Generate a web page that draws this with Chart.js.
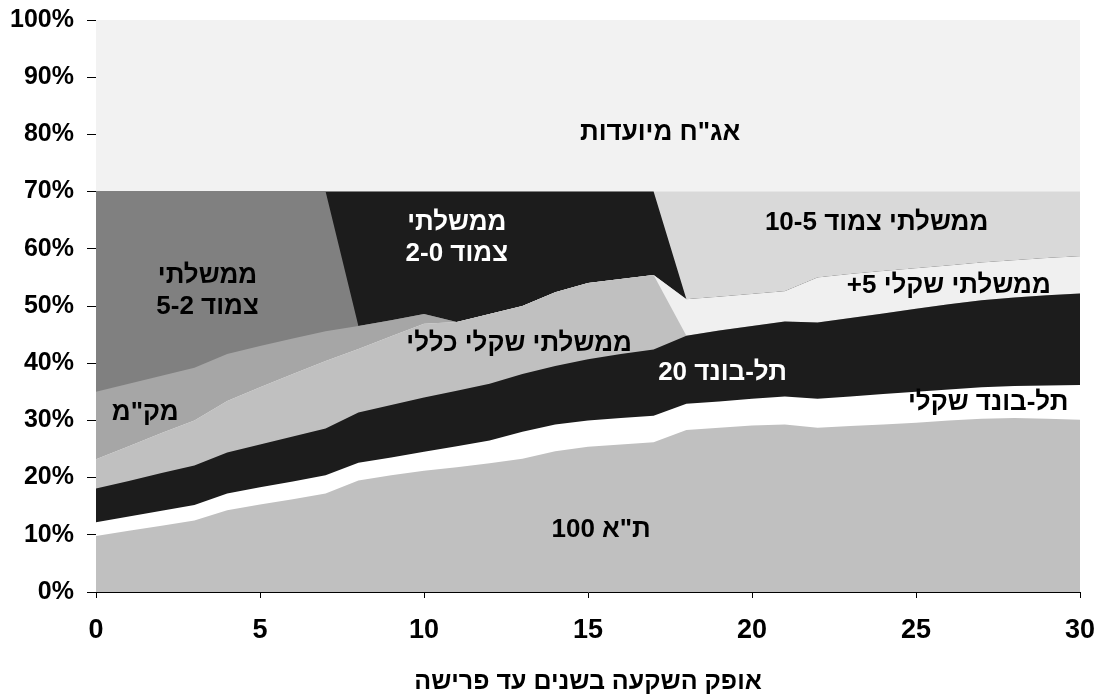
<!DOCTYPE html>
<html>
<head>
<meta charset="utf-8">
<script src="https://cdn.jsdelivr.net/npm/chart.js@4.4.1/dist/chart.umd.min.js"></script>
<style>
  html, body { margin: 0; padding: 0; background: #fff; }
  #wrap { width: 1102px; height: 700px; }
</style>
</head>
<body>
<div id="wrap"><canvas id="mixChart" width="1102" height="700"></canvas></div>
<script>
// investment horizon (years to retirement)
const years = [0, 1, 2, 3, 4, 5, 6, 7, 8, 9, 10, 11, 12, 13, 14, 15, 16, 17, 18, 19, 20, 21, 22, 23, 24, 25, 26, 27, 28, 29, 30];

// share of each asset (%), stacked from the bottom
const ta100 = [9.8, 10.7, 11.6, 12.5, 14.3, 15.3, 16.2, 17.2, 19.5, 20.4, 21.2, 21.8, 22.5, 23.3, 24.6, 25.4, 25.8, 26.2, 28.3, 28.7, 29.1, 29.3, 28.7, 29.0, 29.3, 29.6, 30.0, 30.3, 30.4, 30.3, 30.1];
const telBondShekli = [2.4, 2.5, 2.6, 2.7, 2.9, 3.0, 3.1, 3.2, 3.1, 3.1, 3.3, 3.7, 4.0, 4.7, 4.7, 4.6, 4.6, 4.6, 4.6, 4.6, 4.7, 4.9, 5.1, 5.2, 5.3, 5.4, 5.4, 5.5, 5.6, 5.8, 6.1];
const telBond20 = [5.9, 6.2, 6.6, 6.9, 7.2, 7.5, 7.9, 8.2, 8.8, 9.2, 9.5, 9.7, 9.9, 10.1, 10.2, 10.7, 11.2, 11.6, 11.9, 12.4, 12.7, 13.1, 13.3, 13.7, 14.1, 14.5, 14.9, 15.2, 15.5, 15.8, 16.0];
const shekliKlali = [5.1, 6.1, 7.0, 7.9, 9.0, 10.0, 10.9, 11.8, 11.1, 12.0, 12.9, 12.0, 12.2, 11.9, 12.9, 13.3, 13.1, 13.0, 0, 0, 0, 0, 0, 0, 0, 0, 0, 0, 0, 0, 0];
const shekli5plus = [0, 0, 0, 0, 0, 0, 0, 0, 0, 0, 0, 0, 0, 0, 0, 0, 0, 0, 6.4, 5.9, 5.6, 5.3, 7.9, 7.7, 7.4, 7.1, 6.8, 6.6, 6.5, 6.5, 6.5];
const makam = [11.8, 10.9, 10.0, 9.2, 8.2, 7.2, 6.2, 5.2, 4.0, 2.8, 1.7, 0, 0, 0, 0, 0, 0, 0, 0, 0, 0, 0, 0, 0, 0, 0, 0, 0, 0, 0, 0];
const tzamud52 = [35.0, 33.6, 32.2, 30.8, 28.4, 27.0, 25.7, 24.4, 0, 0, 0, 0, 0, 0, 0, 0, 0, 0, 0, 0, 0, 0, 0, 0, 0, 0, 0, 0, 0, 0, 0];
const tzamud02 = [0, 0, 0, 0, 0, 0, 0, 0, 23.5, 22.5, 21.4, 22.8, 21.4, 20.0, 17.6, 16.0, 15.3, 14.6, 0, 0, 0, 0, 0, 0, 0, 0, 0, 0, 0, 0, 0];
const tzamud105 = [0, 0, 0, 0, 0, 0, 0, 0, 0, 0, 0, 0, 0, 0, 0, 0, 0, 0, 18.8, 18.4, 17.9, 17.4, 15.0, 14.4, 13.9, 13.4, 12.9, 12.4, 12.0, 11.6, 11.3];
const meyuadot = [30, 30, 30, 30, 30, 30, 30, 30, 30, 30, 30, 30, 30, 30, 30, 30, 30, 30, 30, 30, 30, 30, 30, 30, 30, 30, 30, 30, 30, 30, 30];

const seriesNames = ['ת"א 100', 'תל-בונד שקלי', 'תל-בונד 20', 'ממשלתי שקלי כללי', 'ממשלתי שקלי 5+', 'מק"מ', 'ממשלתי צמוד 5-2', 'ממשלתי צמוד 2-0', 'ממשלתי צמוד 10-5', 'אג"ח מיועדות'];
const seriesValues = [ta100, telBondShekli, telBond20, shekliKlali, shekli5plus, makam, tzamud52, tzamud02, tzamud105, meyuadot];
const seriesColors = ['#c0c0c0', '#ffffff', '#1c1c1c', '#c0c0c0', '#f0f0f0', '#a6a6a6', '#808080', '#1c1c1c', '#d9d9d9', '#f2f2f2'];

// text written inside the areas: [lines, year, percent, colour]
const areaLabels = [
    [['אג"ח מיועדות'], 17.2, 80.3, '#000'],
    [['ממשלתי', 'צמוד 5-2'], 3.4, 52.5, '#000'],
    [['ממשלתי', 'צמוד 2-0'], 11.0, 61.9, '#fff'],
    [['ממשלתי צמוד 10-5'], 23.8, 64.5, '#000'],
    [['ממשלתי שקלי 5+'], 26.0, 53.5, '#000'],
    [['ממשלתי שקלי כללי'], 12.9, 43.4, '#000'],
    [['מק"מ'], 1.5, 31.4, '#000'],
    [['תל-בונד 20'], 19.1, 38.3, '#fff'],
    [['תל-בונד שקלי'], 27.2, 33.1, '#000'],
    [['ת"א 100'], 15.4, 10.8, '#000']
];

const FONT = "'Liberation Sans', Arial, sans-serif";

const labelPlugin = {
    id: 'areaLabels',
    afterDatasetsDraw(chart) {
        const ctx = chart.ctx;
        const xs = chart.scales.x, ys = chart.scales.y;
        ctx.save();
        ctx.font = 'bold 26px ' + FONT;
        ctx.direction = 'rtl';
        ctx.textAlign = 'center';
        ctx.textBaseline = 'middle';
        areaLabels.forEach(([lines, x, y, color]) => {
            const px = xs.getPixelForValue(x);
            const py = ys.getPixelForValue(y);
            ctx.fillStyle = color;
            lines.forEach((t, i) => {
                ctx.fillText(t, px, py + (i - (lines.length - 1) / 2) * 31);
            });
        });
        ctx.restore();
    }
};

const datasets = seriesValues.map((vals, i) => ({
    label: seriesNames[i],
    data: vals.map((v, j) => ({ x: years[j], y: v })),
    backgroundColor: seriesColors[i],
    borderColor: 'transparent',
    borderWidth: 0,
    pointRadius: 0,
    tension: 0,
    fill: 'origin'
}));

new Chart(document.getElementById('mixChart'), {
    type: 'line',
    data: { datasets: datasets },
    options: {
        responsive: false,
        animation: false,
        layout: { padding: { top: 20, right: 22, left: 0, bottom: 0 } },
        plugins: {
            legend: { display: false },
            tooltip: { enabled: false }
        },
        scales: {
            x: {
                type: 'linear',
                min: 0,
                max: 30,
                afterFit: (s) => { s.height = 108; s.paddingLeft = 0; s.paddingRight = 0; },
                border: { color: '#000', width: 1 },
                grid: { drawOnChartArea: false, color: '#000', tickLength: 6 },
                ticks: {
                    stepSize: 5,
                    padding: 16,
                    color: '#000',
                    font: { family: FONT, size: 27, weight: 'bold' }
                },
                title: {
                    display: true,
                    text: 'אופק השקעה בשנים עד פרישה',
                    color: '#000',
                    padding: { top: 0, bottom: 3 },
                    font: { family: FONT, size: 25, weight: 'bold' }
                }
            },
            y: {
                stacked: true,
                min: 0,
                max: 100,
                afterFit: (s) => { s.width = 96; s.paddingTop = 0; s.paddingBottom = 0; },
                border: { color: '#000', width: 1 },
                grid: { drawOnChartArea: false, color: '#000', tickLength: 9 },
                ticks: {
                    stepSize: 10,
                    padding: 13,
                    color: '#000',
                    font: { family: FONT, size: 25, weight: 'bold' },
                    callback: (v) => v + '%'
                }
            }
        }
    },
    plugins: [labelPlugin]
});
</script>
</body>
</html>
